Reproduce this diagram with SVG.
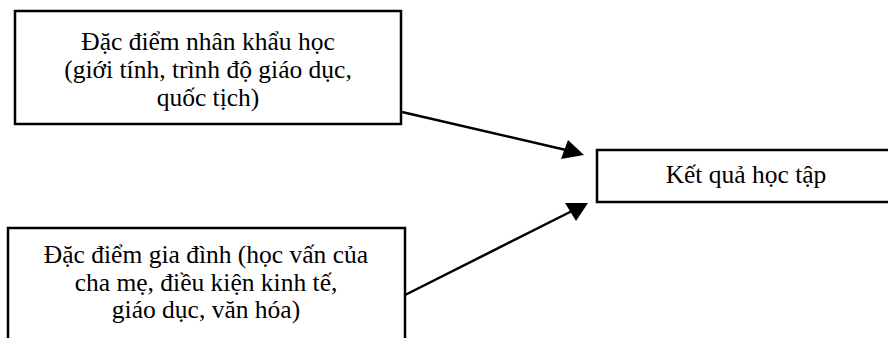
<svg xmlns="http://www.w3.org/2000/svg" width="888" height="338" viewBox="0 0 888 338">
<defs>
<style>
.box{fill:#fff;stroke:#000;stroke-width:2.5}
.t{font-family:'Liberation Serif','Times New Roman',serif;font-size:25.5px;fill:#000;text-anchor:middle}
.c{stroke:#000;stroke-width:2.5;fill:none}
.h{fill:#000}
</style>
</defs>
<rect width="888" height="338" fill="#fff"/>
<g id="n1">
<rect class="box" x="15" y="11" width="386" height="113"/>
<text class="t" font-family="Liberation Serif, serif" x="208" y="50">Đặc điểm nhân khẩu học</text>
<text class="t" font-family="Liberation Serif, serif" x="208" y="78">(giới tính, trình độ giáo dục,</text>
<text class="t" font-family="Liberation Serif, serif" x="208" y="106">quốc tịch)</text>
</g>
<g id="n2">
<rect class="box" x="8" y="228" width="397" height="120"/>
<text class="t" font-family="Liberation Serif, serif" x="206" y="263">Đặc điểm gia đình (học vấn của</text>
<text class="t" font-family="Liberation Serif, serif" x="206" y="291">cha mẹ, điều kiện kinh tế,</text>
<text class="t" font-family="Liberation Serif, serif" x="206" y="318">giáo dục, văn hóa)</text>
</g>
<g id="n3">
<rect class="box" x="597" y="150" width="300" height="52"/>
<text class="t" font-family="Liberation Serif, serif" x="746" y="183">Kết quả học tập</text>
</g>
<g id="connectors">
<path d="M402,112 L566,150" class="c"/>
<path class="h" d="M584,155 L561,159 L568,140 Z"/>
<path d="M405,295 L572,211" class="c"/>
<path class="h" d="M588,203 L576,221 L565,203 Z"/>
</g>
</svg>
